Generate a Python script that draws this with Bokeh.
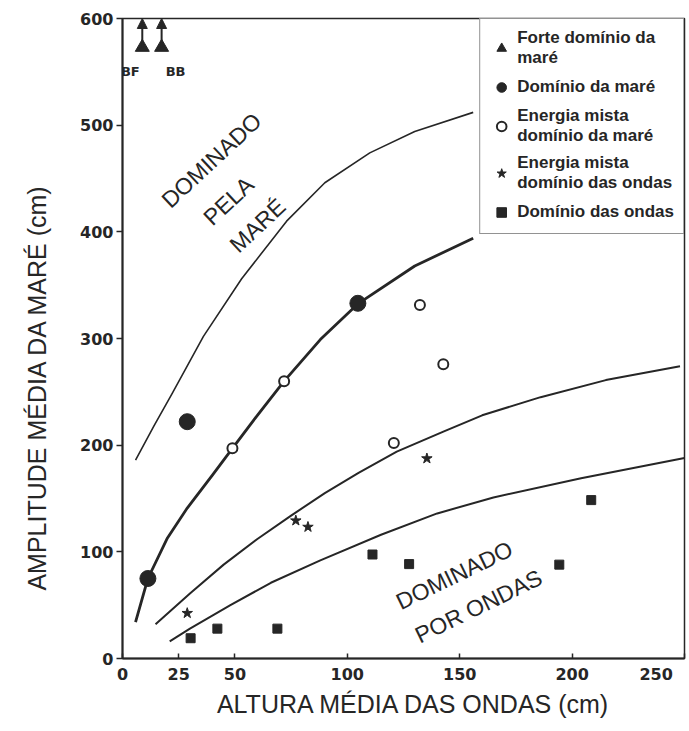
from bokeh.plotting import figure
from bokeh.models import (ColumnDataSource, Range1d, FixedTicker, Label, Arrow,
                          NormalHead, Legend, LegendItem)
from bokeh.embed import file_html
from bokeh.resources import INLINE

# ---------------- data ----------------
x_ticks = [0, 25, 50, 100, 150, 200, 250]
y_ticks = [0, 100, 200, 300, 400, 500, 600]
x_max = 250
y_max = 600

# Forte domínio da maré (off-scale, arrows)
tri_x = [8.8, 17.4]
tri_y = [573, 573]
tri_names = ["BF", "BB"]

# Domínio da maré
circ_x = [11.3, 28.8, 104.7]
circ_y = [75, 222, 333]

# Energia mista domínio da maré
open_x = [48.9, 71.9, 120.7, 132.3, 142.7]
open_y = [197, 260, 202, 331.5, 275.8]

# Energia mista domínio das ondas
star_x = [28.8, 77.1, 82.5, 135.4]
star_y = [42.5, 129.3, 123.3, 187.5]

# Domínio das ondas
sq_x = [30.3, 42.2, 68.9, 111.2, 127.5, 194.3, 208.5]
sq_y = [19, 28, 28, 97.5, 88.5, 88, 148.5]

# boundary curves
curve1_x = [5.8, 14, 22, 36, 53, 73, 90, 110, 130, 156]
curve1_y = [186, 218, 248, 302, 356, 410, 446, 474, 494, 512]

curve2_x = [5.8, 11.3, 20, 28.8, 40, 48.9, 60, 71.9, 88, 105, 130, 156]
curve2_y = [34, 75, 113, 141, 172, 197, 228, 260, 299, 333, 368, 394]

curve3_x = [14.7, 30, 45, 60, 75, 90, 105, 122, 143, 160, 186, 215, 248]
curve3_y = [32, 61, 88, 112, 134, 155, 174, 194, 213, 228, 245, 261, 274]

curve4_x = [21, 30, 48, 66, 88, 115, 140, 165, 204, 250]
curve4_y = [16, 28, 50, 71, 92, 116, 136, 151, 169, 188]

x_title = "ALTURA MÉDIA DAS ONDAS (cm)"
y_title = "AMPLITUDE MÉDIA DA MARÉ (cm)"

INK = "#262626"
NBSP = "\u00a0"

p = figure(width=689, height=731, output_backend="svg", toolbar_location=None,
           x_range=Range1d(0, x_max), y_range=Range1d(0, y_max),
           min_border_left=122, min_border_right=5, min_border_top=18,
           min_border_bottom=73)
p.background_fill_color = "white"
p.border_fill_color = "white"
p.outline_line_color = INK
p.outline_line_width = 1.5
p.xgrid.visible = False
p.ygrid.visible = False

# curves
p.line(curve1_x, curve1_y, line_color=INK, line_width=1.6, line_join="round")
p.line(curve2_x, curve2_y, line_color=INK, line_width=2.8, line_join="round")
p.line(curve3_x, curve3_y, line_color=INK, line_width=2.0, line_join="round")
p.line(curve4_x, curve4_y, line_color=INK, line_width=2.0, line_join="round")

# arrows for off-scale points
arr_src = ColumnDataSource(dict(x0=tri_x, y0=tri_y, x1=tri_x, y1=[y_max] * len(tri_x)))
p.add_layout(Arrow(x_start="x0", y_start="y0", x_end="x1", y_end="y1", source=arr_src,
                   line_color=INK, line_width=2,
                   end=NormalHead(size=10, fill_color=INK, line_color=INK)))

r_tri = p.scatter(tri_x, tri_y, marker="triangle", size=14, fill_color=INK, line_color=INK)
r_circ = p.scatter(circ_x, circ_y, marker="circle", size=16, fill_color=INK, line_color=INK)
r_open = p.scatter(open_x, open_y, marker="circle", size=10, fill_color="white",
                   line_color=INK, line_width=2)
r_star = p.scatter(star_x, star_y, marker="star", size=11, fill_color=INK, line_color=INK)
r_sq = p.scatter(sq_x, sq_y, marker="square", size=9, fill_color=INK, line_color=INK)

for xv, yv, name, dx in zip(tri_x, tri_y, tri_names, [-12, 14]):
    p.add_layout(Label(x=xv, y=yv, text=name, x_offset=dx, y_offset=-24,
                       text_align="center", text_baseline="middle",
                       text_font="DejaVu Sans", text_font_style="bold",
                       text_font_size="13px", text_color=INK))

# region texts
region_font = dict(text_font="Liberation Sans", text_font_size="23px", text_color=INK,
                   text_align="center", text_baseline="middle", angle_units="deg")
p.add_layout(Label(x=39.6, y=467, text="DOMINADO", angle=43, **region_font))
p.add_layout(Label(x=47.2, y=429, text="PELA", angle=43, **region_font))
p.add_layout(Label(x=60.1, y=406, text="MARÉ", angle=43, **region_font))
p.add_layout(Label(x=147.6, y=78, text="DOMINADO", angle=26, **region_font))
p.add_layout(Label(x=158.4, y=49, text="POR ONDAS", angle=26, **region_font))

# axes
p.xaxis.ticker = FixedTicker(ticks=x_ticks)
p.yaxis.ticker = FixedTicker(ticks=y_ticks)
# last x label nudged left so it stays inside the page, as in the original
p.xaxis.major_label_overrides = {x_ticks[-1]: str(x_ticks[-1]) + NBSP * 3}
for ax in (p.xaxis[0], p.yaxis[0]):
    ax.axis_line_color = INK
    ax.axis_line_width = 2
    ax.major_tick_line_color = INK
    ax.major_tick_line_width = 1.5
    ax.minor_tick_line_color = None
    ax.major_label_text_font = "DejaVu Sans"
    ax.major_label_text_font_style = "bold"
    ax.major_label_text_font_size = "16px"
    ax.major_label_text_color = INK
    ax.axis_label_text_font = "Liberation Sans"
    ax.axis_label_text_font_style = "normal"
    ax.axis_label_text_font_size = "25px"
    ax.axis_label_text_color = INK
p.xaxis.major_tick_in = 5
p.xaxis.major_tick_out = 0
p.yaxis.major_tick_in = 0
p.yaxis.major_tick_out = 6
p.xaxis.major_label_standoff = 6
p.yaxis.major_label_standoff = 3
p.xaxis.axis_label = NBSP * 3 + x_title
p.yaxis.axis_label = y_title + NBSP * 14
p.xaxis.axis_label_standoff = 3
p.yaxis.axis_label_standoff = 26

legend = Legend(items=[
    LegendItem(label="Forte domínio da\nmaré", renderers=[r_tri]),
    LegendItem(label="Domínio da maré", renderers=[r_circ]),
    LegendItem(label="Energia mista\ndomínio da maré", renderers=[r_open]),
    LegendItem(label="Energia mista\ndomínio das ondas", renderers=[r_star]),
    LegendItem(label="Domínio das ondas", renderers=[r_sq]),
], location="top_right")
legend.margin = 0
legend.padding = 9
legend.spacing = 7
legend.border_line_color = INK
legend.border_line_width = 1.5
legend.background_fill_color = "white"
legend.background_fill_alpha = 1
legend.label_text_font = "Liberation Sans"
legend.label_text_font_style = "bold"
legend.label_text_font_size = "17px"
legend.label_text_color = INK
legend.label_standoff = 4
legend.glyph_width = 24
legend.glyph_height = 24
p.add_layout(legend)

open("out.html", "w").write(file_html(p, INLINE))
